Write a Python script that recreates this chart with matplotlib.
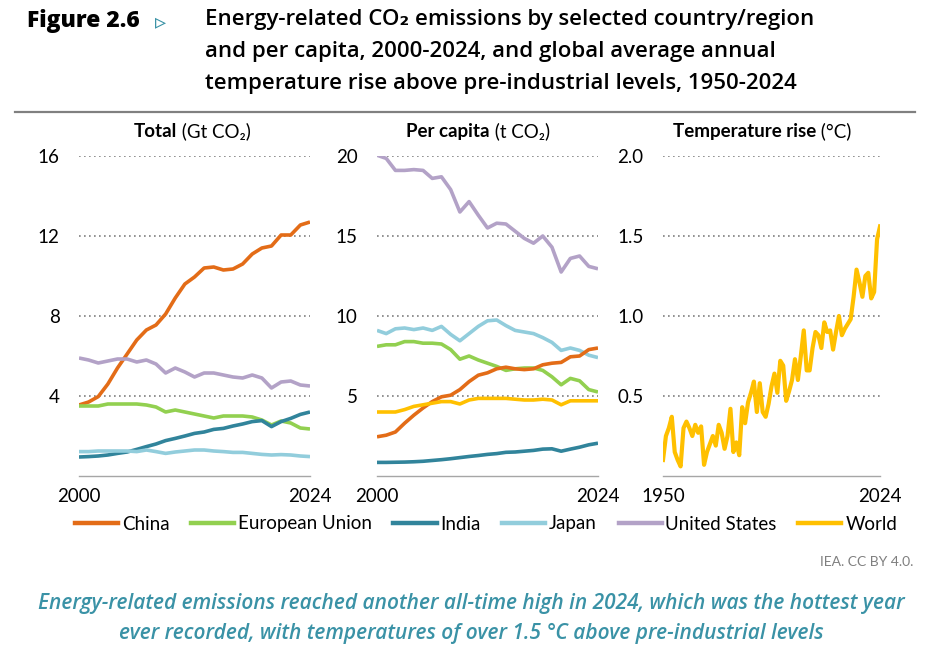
import matplotlib
matplotlib.use("Agg")
import matplotlib.pyplot as plt
import numpy as np

plt.rcParams['font.family'] = ['Lato', 'DejaVu Sans']

# ---- data -------------------------------------------------------------
years = np.arange(2000, 2025)
temp_years = np.arange(1950, 2025)

# Total emissions (Gt CO2)
china_total = [3.55, 3.7, 3.97, 4.6, 5.4, 6.1, 6.8, 7.3, 7.55, 8.1, 8.9, 9.6, 9.95,
               10.4, 10.45, 10.3, 10.35, 10.6, 11.1, 11.4, 11.5, 12.05, 12.05, 12.55, 12.7]
eu_total = [3.5, 3.5, 3.5, 3.6, 3.6, 3.6, 3.6, 3.55, 3.45, 3.2, 3.3, 3.2, 3.1,
            3.0, 2.9, 3.0, 3.0, 3.0, 2.95, 2.8, 2.55, 2.75, 2.65, 2.4, 2.35]
india_total = [0.95, 0.97, 1.0, 1.05, 1.13, 1.2, 1.33, 1.47, 1.6, 1.77, 1.88, 2.0, 2.13,
               2.2, 2.33, 2.38, 2.5, 2.6, 2.72, 2.77, 2.47, 2.72, 2.88, 3.08, 3.2]
japan_total = [1.22, 1.22, 1.25, 1.25, 1.25, 1.25, 1.22, 1.3, 1.22, 1.13, 1.2, 1.25, 1.3,
               1.3, 1.25, 1.22, 1.18, 1.18, 1.13, 1.08, 1.05, 1.07, 1.05, 1.0, 0.97]
us_total = [5.9, 5.8, 5.65, 5.75, 5.85, 5.85, 5.7, 5.8, 5.6, 5.15, 5.4, 5.2, 4.95,
            5.15, 5.15, 5.05, 4.95, 4.9, 5.05, 4.9, 4.4, 4.7, 4.75, 4.55, 4.5]

# Per capita emissions (t CO2)
china_pc = [2.45, 2.55, 2.75, 3.3, 3.8, 4.25, 4.65, 4.95, 5.05, 5.4, 5.9, 6.3, 6.45,
            6.7, 6.8, 6.7, 6.65, 6.7, 6.95, 7.05, 7.1, 7.45, 7.5, 7.9, 8.0]
eu_pc = [8.1, 8.2, 8.2, 8.4, 8.4, 8.3, 8.3, 8.25, 7.9, 7.3, 7.5, 7.25, 7.05,
         6.85, 6.6, 6.7, 6.75, 6.75, 6.6, 6.2, 5.7, 6.1, 5.95, 5.4, 5.25]
india_pc = [0.85, 0.85, 0.86, 0.87, 0.89, 0.92, 0.97, 1.02, 1.08, 1.15, 1.22, 1.28, 1.35,
            1.4, 1.48, 1.5, 1.55, 1.6, 1.68, 1.7, 1.55, 1.68, 1.8, 1.95, 2.05]
japan_pc = [9.1, 8.9, 9.2, 9.25, 9.15, 9.25, 9.1, 9.35, 8.85, 8.45, 8.9, 9.35, 9.7,
            9.75, 9.4, 9.1, 9.0, 8.9, 8.65, 8.35, 7.85, 8.0, 7.85, 7.55, 7.4]
us_pc = [20.05, 19.85, 19.1, 19.1, 19.15, 19.1, 18.6, 18.7, 17.9, 16.5, 17.15, 16.3, 15.5,
         15.8, 15.75, 15.3, 14.85, 14.55, 15.0, 14.3, 12.75, 13.6, 13.75, 13.1, 12.95]
world_pc = [4.0, 4.0, 4.0, 4.15, 4.35, 4.45, 4.55, 4.65, 4.65, 4.5, 4.75, 4.85, 4.85,
            4.85, 4.85, 4.8, 4.75, 4.75, 4.8, 4.75, 4.45, 4.7, 4.7, 4.7, 4.7]

# Global temperature rise above pre-industrial (deg C), 1950-2024
temp_rise = [0.10, 0.25, 0.30, 0.37, 0.15, 0.10, 0.06, 0.30, 0.34, 0.30,
             0.25, 0.32, 0.27, 0.31, 0.07, 0.15, 0.20, 0.25, 0.19, 0.32,
             0.27, 0.17, 0.25, 0.42, 0.15, 0.21, 0.13, 0.43, 0.33, 0.46,
             0.52, 0.59, 0.40, 0.58, 0.40, 0.37, 0.45, 0.56, 0.64, 0.52,
             0.72, 0.69, 0.47, 0.53, 0.60, 0.73, 0.60, 0.75, 0.91, 0.66,
             0.66, 0.80, 0.90, 0.88, 0.80, 0.96, 0.90, 0.91, 0.79, 0.90,
             1.00, 0.88, 0.92, 0.95, 0.98, 1.12, 1.29, 1.21, 1.12, 1.25,
             1.27, 1.11, 1.15, 1.48, 1.56]

names = ['China', 'European Union', 'India', 'Japan', 'United States', 'World']
colors = {'China': '#E36C17', 'European Union': '#92D050', 'India': '#31849B',
          'Japan': '#92CDDC', 'United States': '#B3A2C7', 'World': '#FFC000'}

# ---- figure -------------------------------------------------------------
W, H = 930, 650
fig = plt.figure(figsize=(W / 100, H / 100), dpi=100)


def fx(px):
    return px / W


def fy(py):
    return 1 - py / H


ax1 = fig.add_axes([fx(79), fy(476), fx(310 - 79), (476 - 156) / H])
ax2 = fig.add_axes([fx(377), fy(476), fx(598 - 377), (476 - 156) / H])
ax3 = fig.add_axes([fx(663), fy(476), fx(880 - 663), (476 - 156) / H])

lw = 2.6
for name, vals in zip(names[:5], [china_total, eu_total, india_total, japan_total, us_total]):
    ax1.plot(years, vals, color=colors[name], lw=lw, solid_capstyle='butt')
for name, vals in zip(['United States', 'Japan', 'European Union', 'China', 'World', 'India'],
                      [us_pc, japan_pc, eu_pc, china_pc, world_pc, india_pc]):
    ax2.plot(years, vals, color=colors[name], lw=lw, solid_capstyle='butt')
ax3.plot(temp_years, temp_rise, color=colors['World'], lw=3.0)

setup = [(ax1, (2000, 2024), (0, 16), [4, 8, 12, 16], ['4', '8', '12', '16']),
         (ax2, (2000, 2024), (0, 20), [5, 10, 15, 20], ['5', '10', '15', '20']),
         (ax3, (1950, 2024), (0, 2.0), [0.5, 1.0, 1.5, 2.0], ['0.5', '1.0', '1.5', '2.0'])]
for ax, xl, yl, yt, ytl in setup:
    ax.set_xlim(*xl)
    ax.set_ylim(*yl)
    ax.set_yticks(yt)
    ax.set_yticklabels(ytl)
    ax.set_xticks(list(xl))
    ax.set_xticklabels([str(v) for v in xl])
    for s in ['top', 'right', 'left']:
        ax.spines[s].set_visible(False)
    ax.spines['bottom'].set_color('#A6A6A6')
    ax.spines['bottom'].set_linewidth(1.0)
    ax.tick_params(axis='both', length=0, labelsize=13.5, colors='black')
    ax.tick_params(axis='y', pad=14)
    ax.tick_params(axis='x', pad=9)
    ax.grid(axis='y', color='#7F7F7F', linestyle=(0, (1, 2)), linewidth=1.2)
    ax.set_axisbelow(True)
    ax.patch.set_alpha(0)

# panel titles: bold part followed by normal part
panel_titles = [(134, 'Total', ' (Gt CO₂)'),
                (406, 'Per capita', ' (t CO₂)'),
                (673, 'Temperature rise', ' (°C)')]
for px, bold, rest in panel_titles:
    t = fig.text(fx(px), fy(137), bold, fontsize=13.5, fontweight='bold', va='baseline', ha='left')
    fig.add_artist(matplotlib.text.Annotation(rest, xy=(1, 0), xycoords=t,
                                              va='bottom', ha='left', fontsize=13.5))

# header
fig.text(fx(27), fy(21), 'Figure 2.6', fontsize=16.5, fontweight='heavy', va='center',
         ha='left', family=['Open Sans', 'DejaVu Sans'])
fig.text(fx(155), fy(22), '▹', fontsize=16, color='#3A92A6', va='center', ha='left',
         family=['DejaVu Sans'])
title_lines = ['Energy-related CO₂ emissions by selected country/region',
               'and per capita, 2000-2024, and global average annual',
               'temperature rise above pre-industrial levels, 1950-2024']
for i, line in enumerate(title_lines):
    fig.text(fx(205), fy(20 + i * 31.5), line, fontsize=16, fontweight='semibold',
             va='center', ha='left', family=['Open Sans', 'DejaVu Sans'])
fig.add_artist(plt.Line2D([fx(15), fx(915)], [fy(112), fy(112)], color='#808080', lw=1.6))

# legend
handles = [plt.Line2D([], [], color=colors[n], lw=3.2) for n in names]
fig.legend(handles, names, loc='center', bbox_to_anchor=(fx(486), fy(524)), ncol=6,
           frameon=False, fontsize=13.5, handlelength=2.3, handletextpad=0.2,
           columnspacing=1.15)

# source + caption
fig.text(fx(913), fy(562), 'IEA. CC BY 4.0.', fontsize=10, color='#7F7F7F',
         va='center', ha='right')
caption = ['Energy-related emissions reached another all-time high in 2024, which was the hottest year',
           'ever recorded, with temperatures of over 1.5 °C above pre-industrial levels']
for i, line in enumerate(caption):
    fig.text(fx(471), fy(603 + i * 30), line, fontsize=15, fontstyle='italic',
             fontweight='semibold', color='#3A92A6', va='center', ha='center',
             family=['Open Sans', 'DejaVu Sans'])

fig.savefig('out.png', dpi=100)
